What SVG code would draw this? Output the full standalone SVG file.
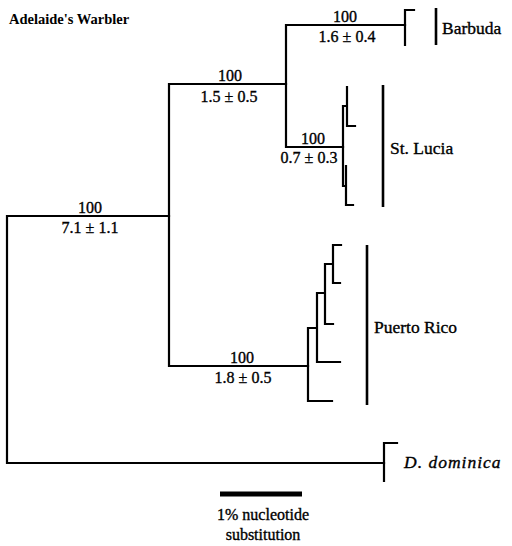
<svg xmlns="http://www.w3.org/2000/svg" width="512" height="546" viewBox="0 0 512 546">
<style>
.br{fill:none;stroke:#000;stroke-width:2.2;stroke-linecap:square}
.bar{stroke:#000;stroke-width:2.6}
.t{font-family:"Liberation Serif","Times New Roman",serif;fill:#000;stroke:#000;stroke-width:0.35}
.lab{font-size:17.5px}
.num{font-size:16px;text-anchor:middle}
.title{font-size:14.5px;font-weight:bold;stroke-width:0}
</style>
<rect width="512" height="546" fill="#fff"/>
<g id="connectors">
<path class="br" d="M7,216 V463 M7,216 H169 M7,463 H384"/>
<path class="br" d="M169,84 V366 M169,84 H286 M169,366 H308"/>
<path class="br" d="M286,25 V147 M286,25 H405 M286,147 H343"/>
<path class="br" d="M405,10 V45 M405,10 H414"/>
<path class="br" d="M343,106 V186 M343,106 H347 M347,87 V126 M347,126 H355 M343,186 H346 M346,166 V205 M346,205 H353"/>
<path class="br" d="M308,328 V401 M308,401 H332 M308,328 H317 M317,293 V362 M317,362 H340 M317,293 H325 M325,264 V324 M325,324 H333 M325,264 H333 M333,245 V283 M333,245 H341 M333,283 H340"/>
<path class="br" d="M384,443 V481 M384,443 H397"/>
</g>
<g id="title"><text class="t title" x="9" y="24">Adelaide's Warbler</text></g>
<g id="branch-root"><text class="t num" x="90" y="213">100</text><text class="t num" x="90" y="233">7.1 ± 1.1</text></g>
<g id="branch-upper"><text class="t num" x="230" y="81">100</text><text class="t num" x="229" y="102">1.5 ± 0.5</text></g>
<g id="branch-barbuda"><text class="t num" x="345" y="22">100</text><text class="t num" x="347" y="42">1.6 ± 0.4</text></g>
<g id="branch-stlucia"><text class="t num" x="313" y="144">100</text><text class="t num" x="309" y="163">0.7 ± 0.3</text></g>
<g id="branch-puertorico"><text class="t num" x="242" y="363">100</text><text class="t num" x="243" y="383">1.8 ± 0.5</text></g>
<g id="barbuda"><line class="bar" x1="436" y1="8" x2="436" y2="45"/><text class="t lab" x="442" y="34">Barbuda</text></g>
<g id="stlucia"><line class="bar" x1="383" y1="85" x2="383" y2="207"/><text class="t lab" x="390" y="154">St. Lucia</text></g>
<g id="puertorico"><line class="bar" x1="367" y1="245" x2="367" y2="405"/><text class="t lab" x="374" y="333">Puerto Rico</text></g>
<g id="dominica"><text class="t lab" x="404" y="468" font-style="italic" letter-spacing="1">D. dominica</text></g>
<g id="scale"><line x1="220" y1="494" x2="302" y2="494" stroke="#000" stroke-width="5"/><text class="t num" x="263" y="520" font-size="17px">1% nucleotide</text><text class="t num" x="263" y="540" font-size="17px">substitution</text></g>
</svg>
